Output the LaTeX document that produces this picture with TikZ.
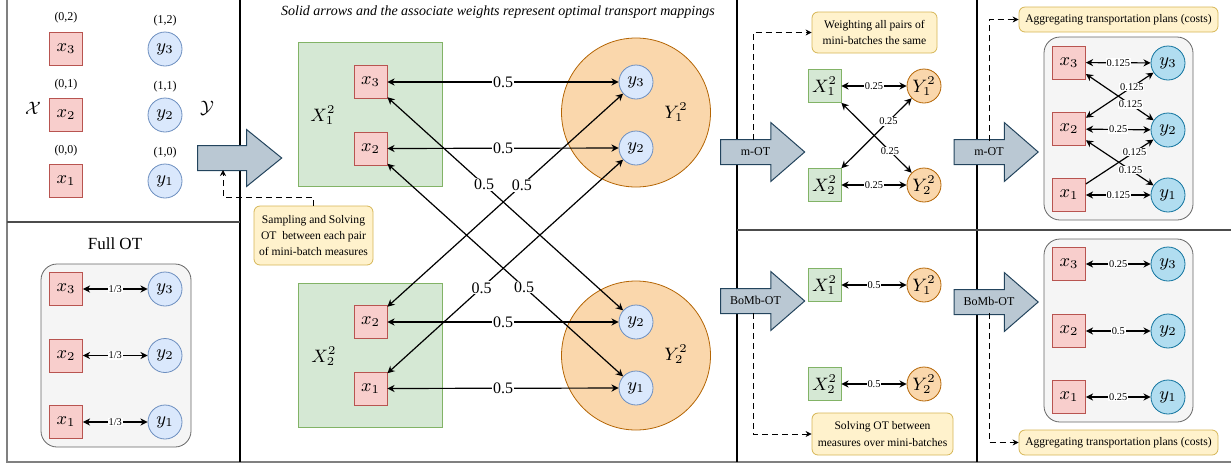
\documentclass[tikz,border=0pt]{standalone}
\usepackage{fontspec}
\setmainfont{Liberation Serif}
\usetikzlibrary{arrows.meta,shapes.arrows,positioning}

\definecolor{ptfill}{HTML}{F8CECC}\definecolor{ptdraw}{HTML}{B85450}
\definecolor{msfill}{HTML}{DAE8FC}\definecolor{msdraw}{HTML}{6C8EBF}
\definecolor{mbfill}{HTML}{B1DDF0}\definecolor{mbdraw}{HTML}{10739E}
\definecolor{grfill}{HTML}{D5E8D4}\definecolor{grdraw}{HTML}{82B366}
\definecolor{orfill}{HTML}{FAD7AC}\definecolor{ordraw}{HTML}{B46504}
\definecolor{ntfill}{HTML}{FFF2CC}\definecolor{ntdraw}{HTML}{D6B656}
\definecolor{arfill}{HTML}{BAC8D3}\definecolor{ardraw}{HTML}{23445D}
\definecolor{bxfill}{HTML}{F5F5F5}\definecolor{bxdraw}{HTML}{666666}

\begin{document}
\begin{tikzpicture}[
    x=0.5pt, y=-0.5pt,
    supp/.style={draw=ptdraw,fill=ptfill,minimum size=16.5pt,inner sep=0pt,font=\fontsize{9}{10}\selectfont},
    targ/.style={circle,draw=msdraw,fill=msfill,minimum size=17pt,inner sep=0pt,font=\fontsize{9}{10}\selectfont},
    targb/.style={targ,draw=mbdraw,fill=mbfill},
    batch/.style={draw=grdraw,fill=grfill,minimum size=16.5pt,inner sep=0pt,font=\fontsize{9}{10}\selectfont},
    mbatch/.style={circle,draw=ordraw,fill=orfill,minimum size=17pt,inner sep=0pt,font=\fontsize{9}{10}\selectfont},
    grp/.style={draw=grdraw,fill=grfill,minimum size=72pt,inner sep=0pt},
    blob/.style={circle,draw=ordraw,fill=orfill,minimum size=74.5pt,inner sep=0pt},
    pool/.style={draw=bxdraw,fill=bxfill,rounded corners=8pt,minimum width=74.5pt,minimum height=91.5pt},
    note/.style={draw=ntdraw,fill=ntfill,rounded corners=3pt,align=center,inner sep=1pt,font=\fontsize{5.8}{8.2}\selectfont},
    flow/.style={single arrow,draw=ardraw,fill=arfill,line width=0.5pt,single arrow head extend=8.5pt,
      single arrow tip angle=82,minimum height=42pt,text height=4.5pt,text depth=1.5pt,
      inner ysep=3pt,inner xsep=1pt,font=\fontsize{6}{7}\selectfont},
    plan/.style={{Stealth[length=3.6pt,width=3.6pt]}-{Stealth[length=3.6pt,width=3.6pt]},line width=0.6pt},
    half/.style={-{Stealth[length=3.6pt,width=3.6pt]},line width=0.6pt},
    hint/.style={densely dashed,line width=0.4pt,-{Stealth[length=3pt,width=3pt]}},
    wt/.style={fill=white,inner sep=0.4pt,font=\fontsize{5.2}{6}\selectfont},
    bigwt/.style={fill=white,inner sep=0.5pt,font=\fontsize{8}{9}\selectfont},
    gridtag/.style={inner sep=0pt,font=\fontsize{6}{7}\selectfont},
    mlab/.style={inner sep=0pt,font=\fontsize{9}{10}\selectfont},
  ]
  \useasboundingbox (0,0) rectangle (1231,467);
  % panels
  \draw[gray,line width=0.6pt] (7,0) -- (7,462) -- (1231,462);
  \draw[line width=0.6pt] (240,0) -- (240,462);
  \draw[line width=0.6pt] (737,0) -- (737,462);
  \draw[line width=0.6pt] (977,0) -- (977,462);
  \draw[black!70,line width=0.6pt] (7,222) -- (240,222);
  \draw[black!70,line width=0.6pt] (737,230) -- (1231,230);

  % supports
  \node[supp] (x3) at (66,48.5) {$x_3$};
  \node[supp] (x2) at (66,115) {$x_2$};
  \node[supp] (x1) at (66,181) {$x_1$};
  \node[targ] (y3) at (165,49) {$y_3$};
  \node[targ] (y2) at (165,115) {$y_2$};
  \node[targ] (y1) at (165,181) {$y_1$};
  \node[gridtag,above=4pt of x3] (c02) {(0,2)};
  \node[gridtag,above=4pt of x2] (c01) {(0,1)};
  \node[gridtag,above=4pt of x1] (c00) {(0,0)};
  \node[gridtag,above=2.5pt of y3] (c12) {(1,2)};
  \node[gridtag,above=2.5pt of y2] (c11) {(1,1)};
  \node[gridtag,above=2.5pt of y1] (c10) {(1,0)};
  \node[mlab] (Xsp) at (33,108) {$\mathcal{X}$};
  \node[mlab] (Ysp) at (207,108) {$\mathcal{Y}$};

  % full OT
  \node[font=\fontsize{8.5}{10}\selectfont] (full) at (115,244) {Full OT};
  \node[pool,minimum width=75pt] (FB) at (116,355.5) {};
  \node[supp] (fx3) at (66,289) {$x_3$};
  \node[supp] (fx2) at (66,355.5) {$x_2$};
  \node[supp] (fx1) at (66,422) {$x_1$};
  \node[targ] (fy3) at (165,289) {$y_3$};
  \node[targ] (fy2) at (165,355.5) {$y_2$};
  \node[targ] (fy1) at (165,422) {$y_1$};
  \foreach \i in {1,2,3}{
      \draw[plan] (fx\i) -- node[wt]{1/3} (fy\i);
    }

  % sampling
  \node[flow,single arrow head extend=8pt,single arrow tip angle=78] (A0) at (232,158) {};
  \node[note,minimum width=59.5pt,minimum height=29.5pt] (S) at (313.5,235.5)
    {Sampling and Solving\\OT\ \ between each pair\\of mini-batch measures};
  \coordinate (h0) at (223,170);
  \draw[hint] (S.north) -- ++(0,-8) -| (h0);

  % mini-batches
  \node[font=\itshape\fontsize{7}{8}\selectfont] (ttl) at (498,12)
    {Solid arrows and the associate weights represent optimal transport mappings};
  \node[grp] (G1) at (370.5,114.5) {};
  \node[grp] (G2) at (370.5,355) {};
  \node[blob] (B1) at (636,112.5) {};
  \node[blob] (B2) at (636,355.5) {};
  \node[mlab] (G1l) at (323,115) {$X_1^2$};
  \node[mlab] (G2l) at (324,356) {$X_2^2$};
  \node[mlab] (B1l) at (676,112) {$Y_1^2$};
  \node[mlab] (B2l) at (676,354) {$Y_2^2$};
  \node[supp] (mx3) at (370.5,82) {$x_3$};
  \node[supp] (mx2) at (370.5,148.5) {$x_2$};
  \node[supp] (nx2) at (370.5,322) {$x_2$};
  \node[supp] (nx1) at (370.5,388.5) {$x_1$};
  \node[targ] (my3) at (636,82) {$y_3$};
  \node[targ] (my2) at (636,148) {$y_2$};
  \node[targ] (ny2) at (636,322) {$y_2$};
  \node[targ] (ny1) at (636,388) {$y_1$};
  \draw[plan] (mx3) -- node[bigwt]{0.5} (my3);
  \draw[plan] (mx2) -- node[bigwt]{0.5} (my2);
  \draw[plan] (nx2) -- node[bigwt]{0.5} (ny2);
  \draw[plan] (nx1) -- node[bigwt]{0.5} (ny1);
  \draw[plan] (mx3) -- node[bigwt,pos=0.41]{0.5} (ny2);
  \draw[plan] (mx2) -- node[bigwt,pos=0.58]{0.5} (ny1);
  \draw[plan] (nx2) -- node[bigwt,pos=0.57]{0.5} (my3);
  \draw[plan] (nx1) -- node[bigwt,pos=0.40]{0.5} (my2);

  % m-OT
  \node[flow] (A1) at (755.5,152) {m-OT};
  \node[note,minimum width=62.5pt,minimum height=20.5pt] (W) at (874.5,32.5)
    {Weighting all pairs of\\mini-batches the same};
  \coordinate (h1) at (753,140);
  \draw[hint] (h1) |- (W.west);
  \node[batch] (p1) at (824.5,86) {$X_1^2$};
  \node[batch] (p2) at (824.5,185) {$X_2^2$};
  \node[mbatch] (q1) at (924,86) {$Y_1^2$};
  \node[mbatch] (q2) at (924,185) {$Y_2^2$};
  \draw[plan] (p1) -- node[wt]{0.25} (q1);
  \draw[plan] (p2) -- node[wt]{0.25} (q2);
  \draw[plan] (p1) -- node[wt,pos=0.69]{0.25} (q2);
  \draw[plan] (q1) -- node[wt,pos=0.33]{0.25} (p2);

  % BoMb-OT
  \node[flow] (A2) at (755.5,301) {BoMb-OT};
  \node[note,minimum width=70.5pt,minimum height=21pt] (SV) at (882.5,434)
    {Solving OT between\\measures over mini-batches};
  \coordinate (h2) at (753,313);
  \draw[hint] (h2) |- (SV.west);
  \node[batch] (r1) at (824.5,285) {$X_1^2$};
  \node[batch] (r2) at (824.5,384) {$X_2^2$};
  \node[mbatch] (s1) at (924,285) {$Y_1^2$};
  \node[mbatch] (s2) at (924,384) {$Y_2^2$};
  \draw[plan] (r1) -- node[wt]{0.5} (s1);
  \draw[plan] (r2) -- node[wt]{0.5} (s2);

  % aggregated m-OT
  \node[flow] (A3) at (989,152) {m-OT};
  \node[note,minimum width=99.5pt,minimum height=12.5pt] (AG1) at (1118.5,19.5)
    {Aggregating transportation plans (costs)};
  \coordinate (h3) at (989,141);
  \draw[hint] (h3) |- (AG1.west);
  \node[pool] (MB) at (1118.5,128.5) {};
  \node[supp] (u3) at (1069,62.5) {$x_3$};
  \node[supp] (u2) at (1069,129) {$x_2$};
  \node[supp] (u1) at (1069,195) {$x_1$};
  \node[targb] (v3) at (1168,63) {$y_3$};
  \node[targb] (v2) at (1168,130) {$y_2$};
  \node[targb] (v1) at (1168,195) {$y_1$};
  \draw[plan] (u3) -- node[wt]{0.125} (v3);
  \draw[plan] (u2) -- node[wt]{0.25} (v2);
  \draw[plan] (u1) -- node[wt]{0.125} (v1);
  \draw[plan] (v3) -- node[wt,pos=0.32]{0.125} (u2);
  \draw[plan] (u3) -- node[wt,pos=0.66]{0.125} (v2);
  \draw[half] (u1) -- node[wt,pos=0.72]{0.125} (v2);
  \draw[plan] (u2) -- node[wt,pos=0.66]{0.125} (v1);

  % aggregated BoMb-OT
  \node[flow] (A4) at (989,302) {BoMb-OT};
  \node[note,minimum width=99.5pt,minimum height=12.5pt] (AG2) at (1118.5,442.5)
    {Aggregating transportation plans (costs)};
  \coordinate (h4) at (989,313);
  \draw[hint] (h4) |- (AG2.west);
  \node[pool] (BB) at (1118.5,330.5) {};
  \node[supp] (w3) at (1069,264) {$x_3$};
  \node[supp] (w2) at (1069,331) {$x_2$};
  \node[supp] (w1) at (1069,397) {$x_1$};
  \node[targb] (z3) at (1168,264) {$y_3$};
  \node[targb] (z2) at (1168,331) {$y_2$};
  \node[targb] (z1) at (1168,397) {$y_1$};
  \draw[plan] (w3) -- node[wt]{0.25} (z3);
  \draw[plan] (w2) -- node[wt]{0.5} (z2);
  \draw[plan] (w1) -- node[wt]{0.25} (z1);
\end{tikzpicture}
\end{document}
